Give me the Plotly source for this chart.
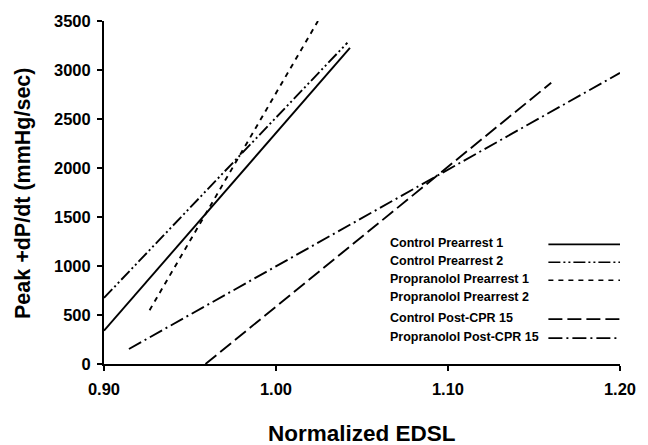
import plotly.graph_objects as go

# ---- data ----
series_names = [
    "Control Prearrest 1",
    "Control Prearrest 2",
    "Propranolol Prearrest 1",
    "Propranolol Prearrest 2",
    "Control Post-CPR 15",
    "Propranolol Post-CPR 15",
]
ctrl_pre1_x = [0.900, 1.043]
ctrl_pre1_y = [340, 3225]
ctrl_pre2_x = [0.900, 1.0415]
ctrl_pre2_y = [675, 3278]
prop_pre1_x = [0.9265, 1.0244]
prop_pre1_y = [549, 3500]
prop_pre2_x = []          # no line visible in the reference
prop_pre2_y = []
ctrl_post_x = [0.959, 1.160]
ctrl_post_y = [0, 2870]
prop_post_x = [0.9145, 1.200]
prop_post_y = [153, 2970]

x_ticks = [0.90, 1.00, 1.10, 1.20]
x_tick_labels = ["0.90", "1.00", "1.10", "1.20"]
y_ticks = [0, 500, 1000, 1500, 2000, 2500, 3000, 3500]

x_title = "Normalized EDSL"
y_title = "Peak +dP/dt (mmHg/sec)"

# ---- styles ----
dashes = [
    "solid",
    "12px,3px,2px,3px,2px,3px",
    "5px,5px",
    None,
    "14px,5px",
    "14px,4px,2px,4px",
]
xs = [ctrl_pre1_x, ctrl_pre2_x, prop_pre1_x, prop_pre2_x, ctrl_post_x, prop_post_x]
ys = [ctrl_pre1_y, ctrl_pre2_y, prop_pre1_y, prop_pre2_y, ctrl_post_y, prop_post_y]

W, H = 648, 445
L, R, T, B = 104, 18, 20, 81
PW, PH = W - L - R, H - T - B

def px2fx(px):
    return (px - L) / PW

def px2fy(py):
    return (H - B - py) / PH

FONT = "Liberation Sans, Arial, Helvetica, sans-serif"

fig = go.Figure()
for name, x, y, d in zip(series_names, xs, ys, dashes):
    if not x:
        continue
    fig.add_trace(go.Scatter(
        x=x, y=y, mode="lines", name=name,
        line=dict(color="black", width=1.9, dash=d),
        showlegend=False,
    ))

# legend drawn as text + sample lines (text left, sample right)
row_y = [243, 261, 279, 297, 318, 337]
shapes = []
annotations = []
for name, d, ry in zip(series_names, dashes, row_y):
    annotations.append(dict(
        x=px2fx(393), y=px2fy(ry), xref="paper", yref="paper",
        text=name, showarrow=False, xanchor="left", yanchor="middle",
        font=dict(family=FONT, size=12.5, color="black", weight="bold"),
    ))
    if d is not None:
        shapes.append(dict(
            type="line", xref="paper", yref="paper",
            x0=px2fx(557), x1=px2fx(630), y0=px2fy(ry + 1), y1=px2fy(ry + 1),
            line=dict(color="black", width=1.6, dash=d),
        ))

# axis titles
annotations.append(dict(
    x=px2fx(367), y=px2fy(434), xref="paper", yref="paper",
    text=x_title, showarrow=False, xanchor="center", yanchor="middle",
    font=dict(family=FONT, size=22.5, color="black", weight="bold"),
))
annotations.append(dict(
    x=px2fx(22), y=px2fy(193), xref="paper", yref="paper",
    text=y_title, showarrow=False, xanchor="center", yanchor="middle",
    textangle=-90,
    font=dict(family=FONT, size=21.5, color="black", weight="bold"),
))

fig.update_layout(
    width=W, height=H,
    margin=dict(l=L, r=R, t=T, b=B, pad=0),
    paper_bgcolor="white", plot_bgcolor="white",
    shapes=shapes, annotations=annotations,
    showlegend=False,
)
fig.update_xaxes(
    range=[0.90, 1.20], tickvals=x_ticks, ticktext=x_tick_labels,
    showgrid=False, zeroline=False, showline=True, linecolor="black", linewidth=2,
    ticks="outside", ticklen=5, tickwidth=1.5, tickcolor="black",
    ticklabelstandoff=4,
    tickfont=dict(family=FONT, size=16.5, color="black", weight="bold"),
)
fig.update_yaxes(
    range=[0, 3500], tickvals=y_ticks,
    showgrid=False, zeroline=False, showline=True, linecolor="black", linewidth=2,
    ticks="outside", ticklen=5, tickwidth=1.5, tickcolor="black",
    ticklabelstandoff=3,
    tickfont=dict(family=FONT, size=16.5, color="black", weight="bold"),
)

fig.write_html("out.html")
